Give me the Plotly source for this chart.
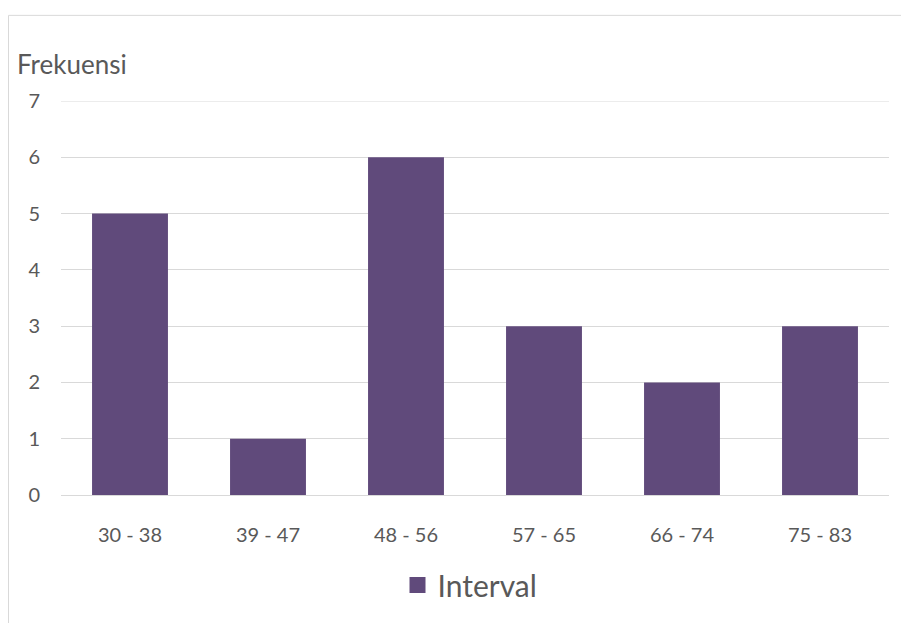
import plotly.graph_objects as go

categories = ["30 - 38", "39 - 47", "48 - 56", "57 - 65", "66 - 74", "75 - 83"]
frekuensi = [5, 1, 6, 3, 2, 3]
y_ticks = [0, 1, 2, 3, 4, 5, 6, 7]
series_name = "Interval"
y_title = "Frekuensi"

# page body has an 8px margin; work in window coordinates and shift
OFF = 8
W, H = 909 - OFF, 623 - OFF
L, R, T, B = 61 - OFF, 889 - OFF, 101 - OFF, 499 - OFF
pw, ph = R - L, B - T

def px(x):
    return (x - OFF - L) / pw

def py(y):
    return (B - (y - OFF)) / ph

txt = "#595959"
grid = "#d9d9d9"
font = "Lato, 'Noto Sans', sans-serif"
color = "#604A7B"

fig = go.Figure()
fig.add_trace(go.Bar(
    x=categories, y=frekuensi, name=series_name,
    marker=dict(color=color, line=dict(width=0)),
    showlegend=False,
))
# legend entry with a larger square swatch
fig.add_trace(go.Scatter(
    x=[None], y=[None], name=series_name, mode="markers",
    marker=dict(symbol="square", size=18, color=color),
    showlegend=True,
))

fig.update_layout(
    width=W, height=H,
    margin=dict(l=L, r=W - R, t=T, b=H - B),
    paper_bgcolor="white", plot_bgcolor="white",
    bargap=0.45,
    font=dict(family=font, color=txt, size=20),
    xaxis=dict(showgrid=False, showline=True, linecolor=grid, linewidth=1,
               ticks="", ticklabelstandoff=22, tickfont=dict(size=20, color=txt)),
    yaxis=dict(range=[0, max(y_ticks)], tickvals=y_ticks, showgrid=True,
               gridcolor=grid, gridwidth=1,
               zeroline=False, showline=False, ticks="", ticklabelstandoff=20,
               tickfont=dict(size=20, color=txt)),
    legend=dict(orientation="h", x=px(470), xanchor="center", y=py(590), yanchor="middle",
                font=dict(size=30, color=txt), itemwidth=30),
    annotations=[dict(text=y_title, xref="paper", yref="paper", x=px(15), y=py(64),
                      xanchor="left", yanchor="middle", showarrow=False,
                      font=dict(size=26, color=txt))],
    shapes=[
        dict(type="rect", xref="paper", yref="paper", x0=px(8.5), y0=py(640),
             x1=px(930), y1=py(14.5), line=dict(color=grid, width=1),
             fillcolor="rgba(0,0,0,0)", layer="below"),
        dict(type="line", xref="paper", yref="y", x0=0, x1=1,
             y0=max(y_ticks), y1=max(y_ticks), line=dict(color=grid, width=1),
             layer="below"),
    ],
)

fig.write_html("out.html")
